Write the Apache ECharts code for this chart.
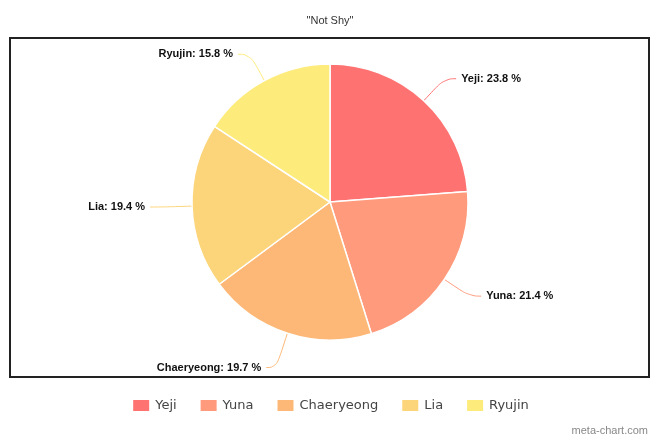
<!DOCTYPE html>
<html>
<head>
<meta charset="utf-8">
<script src="https://cdn.jsdelivr.net/npm/echarts@6/dist/echarts.min.js"></script>
<style>html,body{margin:0;padding:0;background:#fff;}#c{width:660px;height:440px;}</style>
</head>
<body>
<div id="c"></div>
<script>
var categories = ['Yeji', 'Yuna', 'Chaeryeong', 'Lia', 'Ryujin'];
var values = [23.8, 21.4, 19.7, 19.4, 15.8];
var colors = ['#FF7272', '#FF9A7C', '#FDB877', '#FCD57A', '#FDEB7B'];
var titleText = '"Not Shy"';

var chart = echarts.init(document.getElementById('c'));
var data = categories.map(function (n, i) {
  var d = { name: n, value: values[i], itemStyle: { color: colors[i] } };
  if (n === 'Chaeryeong') d.labelLine = { length: 36, length2: 10 };
  return d;
});
chart.setOption({
  animation: false,
  title: {
    text: titleText, left: 'center', top: 10,
    textStyle: { fontFamily: 'Liberation Sans, Arial', fontSize: 11, fontWeight: 'normal', color: '#333' }
  },
  legend: {
    bottom: 22, left: 'center',
    itemWidth: 18, itemHeight: 13, itemGap: 22,
    icon: 'rect',
    textStyle: { fontFamily: 'DejaVu Sans', fontSize: 13, color: '#444' },
    data: categories
  },
  graphic: [
    { type: 'rect', shape: { x: 10, y: 38, width: 639, height: 339 },
      style: { fill: 'none', stroke: '#222', lineWidth: 2 }, z: -1 },
    { type: 'text', right: 12, bottom: 4,
      style: { text: 'meta-chart.com', fill: '#888', font: '11px Liberation Sans, Arial' } }
  ],
  series: [{
    type: 'pie',
    center: [330, 202],
    radius: 138,
    startAngle: 90,
    clockwise: true,
    avoidLabelOverlap: false,
    itemStyle: { borderColor: '#fff', borderWidth: 1.5 },
    label: {
      show: true,
      formatter: '{b}: {c} %',
      fontFamily: 'Liberation Sans, Arial',
      fontSize: 11,
      fontWeight: 'bold',
      color: '#111'
    },
    labelLine: { show: true, length: 30, length2: 12, smooth: 0.5, lineStyle: { width: 1 } },
    emphasis: { disabled: true },
    data: data
  }]
});
</script>
</body>
</html>
